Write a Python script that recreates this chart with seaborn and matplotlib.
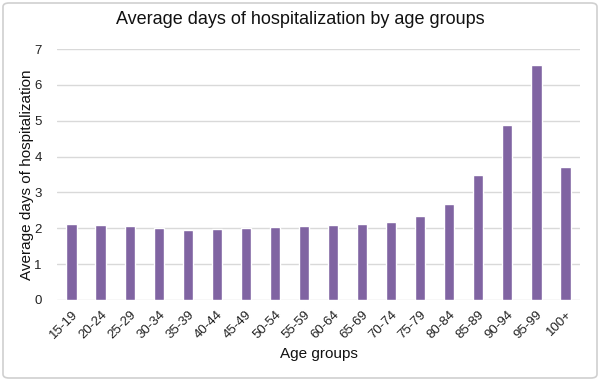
import pandas as pd
import matplotlib.pyplot as plt
import seaborn as sns
from matplotlib.patches import FancyBboxPatch

# data
age_groups = ["15-19", "20-24", "25-29", "30-34", "35-39", "40-44", "45-49", "50-54", "55-59",
              "60-64", "65-69", "70-74", "75-79", "80-84", "85-89", "90-94", "95-99", "100+"]
avg_days = [2.13, 2.10, 2.07, 2.01, 1.94, 1.97, 2.00, 2.04, 2.07,
            2.10, 2.13, 2.18, 2.35, 2.67, 3.50, 4.88, 6.54, 3.70]

df = pd.DataFrame({"Age groups": age_groups, "Days": avg_days})

sns.set_style("white")
plt.rcParams['font.family'] = ['Liberation Sans', 'DejaVu Sans']

fig = plt.figure(figsize=(6, 3.81), dpi=100)
ax = fig.add_axes([57 / 600, 1 - 300 / 381, 523 / 600, (300 - 49) / 381])

sns.barplot(data=df, x="Age groups", y="Days", color="#8064A2", saturation=1,
            width=0.35, ax=ax, zorder=3)

ax.set_ylim(0, 7)
ax.set_xlim(-0.5, len(age_groups) - 0.5)
ax.set_yticks(range(0, 8))
ax.yaxis.grid(True, color="#d9d9d9", linewidth=1, zorder=0)
for s in ax.spines.values():
    s.set_visible(False)
ax.tick_params(axis="both", length=0, labelsize=9.5, colors="#222222")
ax.tick_params(axis="y", pad=11)
ax.tick_params(axis="x", pad=6)
plt.setp(ax.get_xticklabels(), rotation=45, ha="right", rotation_mode="anchor")

ax.set_xlabel("Age groups", fontsize=11, color="#111111", labelpad=4)
ax.set_ylabel("Average days of hospitalization", fontsize=11, color="#111111", labelpad=0)
fig.text(0.5, 1 - 20 / 381, "Average days of hospitalization by age groups",
         ha="center", va="center", fontsize=13, color="#111111")

# light frame around the chart
frame = FancyBboxPatch((3 / 600, 3 / 381), 594 / 600, 375 / 381,
                       boxstyle="round,pad=0,rounding_size=0.01",
                       transform=fig.transFigure, fill=False,
                       edgecolor="#d0d0d0", linewidth=1.2)
fig.patches.append(frame)

fig.savefig("out.png", dpi=100)
